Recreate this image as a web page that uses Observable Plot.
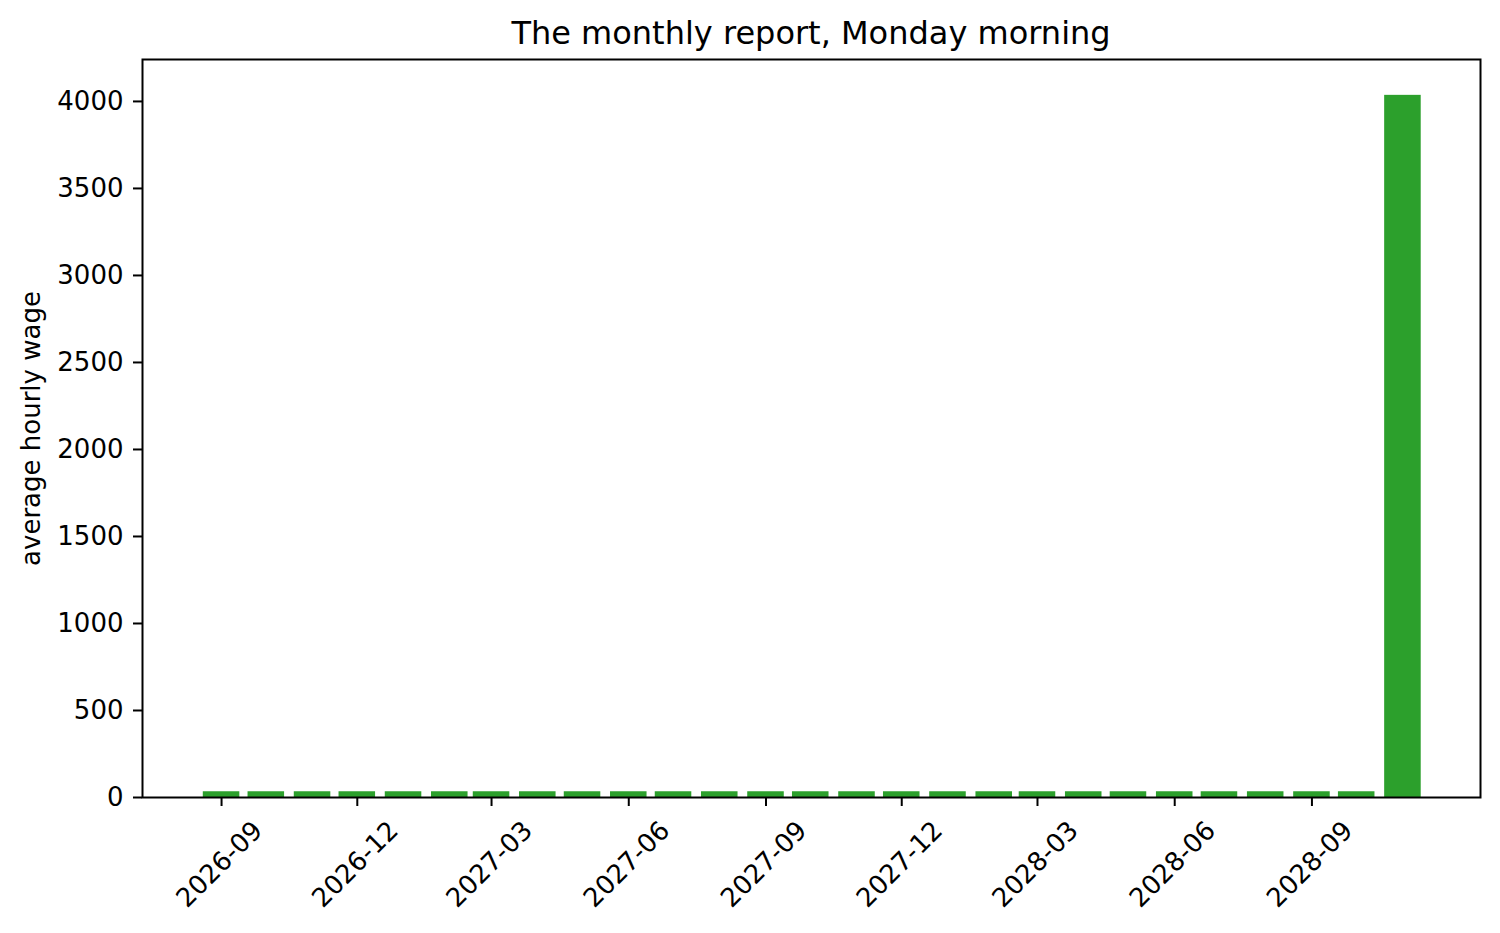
<!DOCTYPE html>
<html><head><meta charset="utf-8">
<script src="https://cdn.jsdelivr.net/npm/d3@7"></script>
<script src="https://cdn.jsdelivr.net/npm/@observablehq/plot@0.6"></script>
<style>
body{margin:0;background:#fff;font-family:"DejaVu Sans",sans-serif;}
#title{height:50px;box-sizing:border-box;padding-top:16px;padding-left:142px;padding-right:20px;text-align:center;font-size:32px;line-height:34px;color:#000;white-space:nowrap;}
</style></head><body>
<div id="chart"><div id="title">The monthly report, Monday morning</div></div>
<script>
const months = ["2026-09-01","2026-10-01","2026-11-01","2026-12-01","2027-01-01","2027-02-01","2027-03-01","2027-04-01","2027-05-01","2027-06-01","2027-07-01","2027-08-01","2027-09-01","2027-10-01","2027-11-01","2027-12-01","2028-01-01","2028-02-01","2028-03-01","2028-04-01","2028-05-01","2028-06-01","2028-07-01","2028-08-01","2028-09-01","2028-10-01","2028-11-01"];
const wages = [33,33,33,33,33,33,33,33,33,33,33,33,33,33,33,33,33,33,33,33,33,33,33,33,33,33,4035];
const tickDates = ["2026-09-01","2026-12-01","2027-03-01","2027-06-01","2027-09-01","2027-12-01","2028-03-01","2028-06-01","2028-09-01"];
const tickLabels = ["2026-09","2026-12","2027-03","2027-06","2027-09","2027-12","2028-03","2028-06","2028-09"];
const yTicks = [0,500,1000,1500,2000,2500,3000,3500,4000];
const title = "The monthly report, Monday morning";
const yLabel = "average hourly wage";

const data = months.map((m, i) => ({date: new Date(m), wage: wages[i]}));
const ticks = tickDates.map((t, i) => ({date: new Date(t), label: tickLabels[i]}));

const chart = Plot.plot({
  width: 1500,
  height: 883,
  marginTop: 9,
  marginLeft: 142,
  marginRight: 20,
  marginBottom: 136,
  style: {fontSize: "26px", fontFamily: "DejaVu Sans", color: "black", background: "white"},
  x: {type: "utc", domain: [new Date("2026-07-10"), new Date("2028-12-23")]},
  y: {domain: [0, 4241]},
  marks: [
    Plot.rectY(data, {
      x1: d => d3.utcHour.offset(d.date, -294),
      x2: d => d3.utcHour.offset(d.date, 294),
      y: "wage",
      fill: "#2ca02c"
    }),
    Plot.frame({stroke: "black", strokeWidth: 2}),
    Plot.axisY(yTicks, {tickSize: 9, tickPadding: 10, label: null, strokeWidth: 2, fill: "black",
      fontSize: 26, tickFormat: d3.format("d")}),
    Plot.axisX(ticks.map(t => t.date), {tickSize: 9, tickFormat: () => "", label: null, strokeWidth: 2}),
    Plot.text(ticks, {x: "date", text: "label", frameAnchor: "bottom", dy: 67, dx: -2, rotate: -45,
      textAnchor: "middle", lineAnchor: "middle", fontSize: 26, fill: "black"}),
    Plot.text([yLabel], {text: d => d, frameAnchor: "left", dx: -111, rotate: -90,
      textAnchor: "middle", lineAnchor: "middle", fontSize: 26, fill: "black"})
  ]
});
document.getElementById("chart").appendChild(chart);
</script>
</body></html>
